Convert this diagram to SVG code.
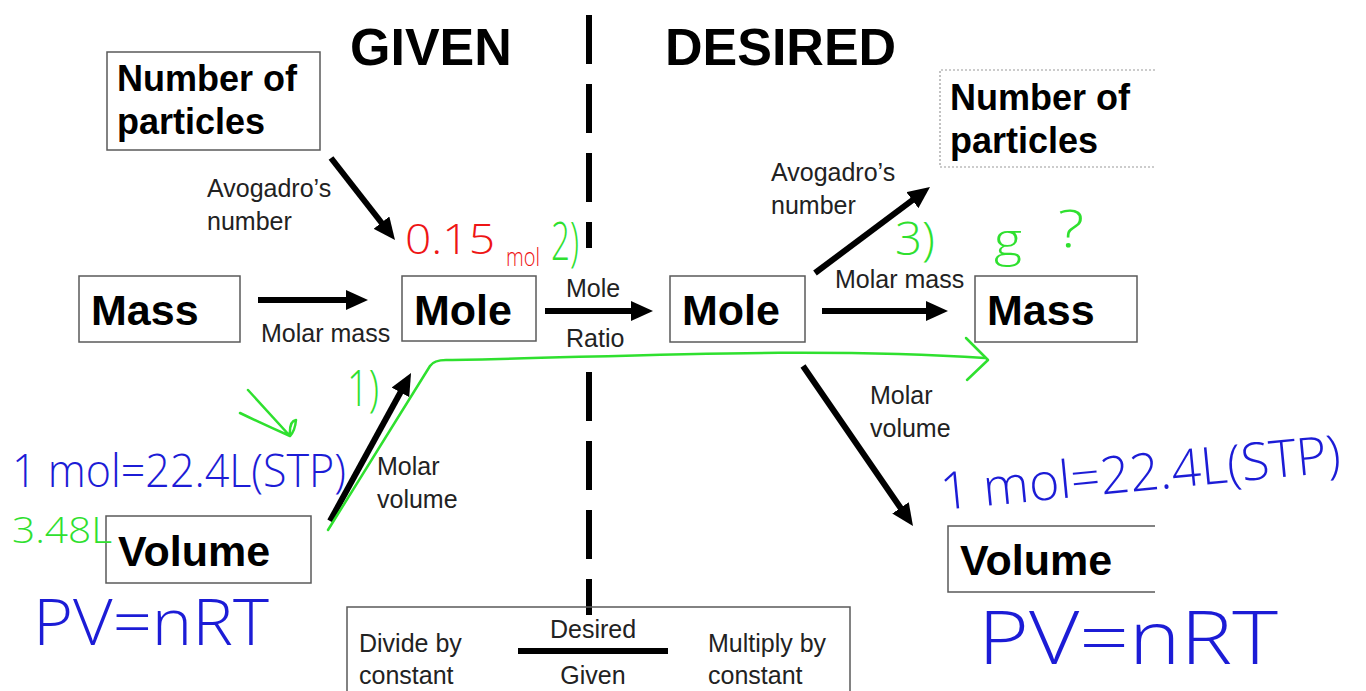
<svg xmlns="http://www.w3.org/2000/svg" width="1366" height="691" viewBox="0 0 1366 691">
<style>
.box{fill:#fff;stroke:#5a5a5a;stroke-width:1.5}
.open{fill:none;stroke:#5a5a5a;stroke-width:1.5}
.dot{fill:none;stroke:#9a9a9a;stroke-width:1.2;stroke-dasharray:2 2}
.nt{font-family:"Liberation Sans",Arial,sans-serif;font-weight:bold;font-size:43px;fill:#000}
.nt2{font-family:"Liberation Sans",Arial,sans-serif;font-weight:bold;font-size:36px;fill:#000}
.ttl{font-family:"Liberation Sans",Arial,sans-serif;font-weight:bold;font-size:52px;fill:#000}
.lbl{font-family:"Liberation Sans",Arial,sans-serif;font-size:25px;fill:#222}
.arr{stroke:#000;stroke-width:6;fill:none}
.hand{font-family:"Open Sans","DejaVu Sans",sans-serif;font-weight:300}
.g{fill:#2fe02f}
.b{fill:#1c1cd6}
.r{fill:#ee1515}
.gs{stroke:#2fe02f;stroke-width:2.5;fill:none;stroke-linecap:round;stroke-linejoin:round}
</style>
<defs>
<marker id="ah" viewBox="0 0 22 20" markerWidth="22" markerHeight="20" refX="3" refY="10" orient="auto" markerUnits="userSpaceOnUse">
<path d="M0,0 L22,10 L0,20 z" fill="#000"/>
</marker>
</defs>
<rect width="1366" height="691" fill="#fff"/>

<g id="titles">
<text class="ttl" x="350" y="65">GIVEN</text>
<text class="ttl" x="665" y="65">DESIRED</text>
</g>

<g id="divider" stroke="#000" stroke-width="6">
<line x1="589" y1="15" x2="589" y2="64"/>
<line x1="589" y1="84" x2="589" y2="133"/>
<line x1="589" y1="153" x2="589" y2="202"/>
<line x1="589" y1="222" x2="589" y2="248"/>
<line x1="589" y1="372" x2="589" y2="421"/>
<line x1="589" y1="441" x2="589" y2="490"/>
<line x1="589" y1="510" x2="589" y2="559"/>
<line x1="589" y1="579" x2="589" y2="615"/>
</g>

<g id="node-particles-left">
<rect class="box" x="107" y="52" width="213" height="98"/>
<text class="nt2" x="117" y="91">Number of</text>
<text class="nt2" x="117" y="134">particles</text>
</g>
<g id="node-particles-right">
<path class="dot" d="M1155,70 L940,70 L940,167 L1155,167"/>
<text class="nt2" x="950" y="110">Number of</text>
<text class="nt2" x="950" y="153">particles</text>
</g>
<g id="node-mass-left">
<rect class="box" x="79" y="276" width="161" height="66"/>
<text class="nt" x="91" y="325">Mass</text>
</g>
<g id="node-mole-left">
<rect class="box" x="402" y="276" width="134" height="65"/>
<text class="nt" x="414" y="325">Mole</text>
</g>
<g id="node-mole-right">
<rect class="box" x="670" y="276" width="135" height="66"/>
<text class="nt" x="682" y="325">Mole</text>
</g>
<g id="node-mass-right">
<rect class="box" x="975" y="276" width="162" height="66"/>
<text class="nt" x="987" y="325">Mass</text>
</g>
<g id="node-volume-left">
<rect class="box" x="106" y="516" width="205" height="67"/>
<text class="nt" x="118" y="566">Volume</text>
</g>
<g id="node-volume-right">
<path class="open" d="M1155,526 L948,526 L948,592 L1155,592"/>
<text class="nt" x="960" y="575">Volume</text>
</g>
<g id="node-legend">
<path class="open" d="M347,691 L347,607 L850,607 L850,691"/>
<text class="lbl" x="359" y="652">Divide by</text>
<text class="lbl" x="359" y="684">constant</text>
<text class="lbl" x="593" y="638" text-anchor="middle">Desired</text>
<line x1="518" y1="651" x2="668" y2="651" stroke="#000" stroke-width="6"/>
<text class="lbl" x="593" y="684" text-anchor="middle">Given</text>
<text class="lbl" x="708" y="652">Multiply by</text>
<text class="lbl" x="708" y="684">constant</text>
</g>

<g id="connectors">
<line class="arr" x1="331" y1="158" x2="383.3" y2="225" marker-end="url(#ah)"/>
<line class="arr" x1="258" y1="300" x2="349" y2="300" marker-end="url(#ah)"/>
<line class="arr" x1="545" y1="311" x2="634" y2="311" marker-end="url(#ah)"/>
<line class="arr" x1="330" y1="521" x2="401.9" y2="389.7" marker-end="url(#ah)"/>
<line class="arr" x1="815" y1="273" x2="914.8" y2="198.4" marker-end="url(#ah)"/>
<line class="arr" x1="822" y1="311" x2="929" y2="311" marker-end="url(#ah)"/>
<line class="arr" x1="803" y1="366" x2="902.2" y2="510.3" marker-end="url(#ah)"/>
</g>

<g id="connector-labels">
<text class="lbl" x="207" y="197">Avogadro’s</text>
<text class="lbl" x="207" y="230">number</text>
<text class="lbl" x="261" y="342">Molar mass</text>
<text class="lbl" x="566" y="297">Mole</text>
<text class="lbl" x="566" y="347">Ratio</text>
<text class="lbl" x="377" y="475">Molar</text>
<text class="lbl" x="377" y="508">volume</text>
<text class="lbl" x="771" y="181">Avogadro’s</text>
<text class="lbl" x="771" y="214">number</text>
<text class="lbl" x="835" y="288">Molar mass</text>
<text class="lbl" x="870" y="404">Molar</text>
<text class="lbl" x="870" y="437">volume</text>
</g>

<g id="annotations">
<path class="gs" d="M328,530 L430,366 Q434,360 446,360 C600,358 800,346 985,358"/>
<path class="gs" d="M966,338 L988,360 L967,380"/>
<path class="gs" d="M248,390 Q268,412 290,436 M240,413 Q265,425 290,436 M290,436 Q289,421 296,420 Q295,431 290,436"/>
<text class="hand g" x="347" y="406" font-size="50" textLength="32" lengthAdjust="spacingAndGlyphs">1)</text>
<text class="hand g" x="12" y="543" font-size="36" textLength="100" lengthAdjust="spacingAndGlyphs">3.48L</text>
<text class="hand g" x="551" y="260" font-size="54" textLength="28" lengthAdjust="spacingAndGlyphs">2)</text>
<text class="hand g" x="895" y="255" font-size="46" textLength="40" lengthAdjust="spacingAndGlyphs">3)</text>
<text class="hand g" x="994" y="256" font-size="46" textLength="28" lengthAdjust="spacingAndGlyphs">g</text>
<text class="hand g" x="1058" y="247" font-size="52" textLength="26" lengthAdjust="spacingAndGlyphs">?</text>
<text class="hand r" x="405" y="254" font-size="42" textLength="90" lengthAdjust="spacingAndGlyphs">0.15</text>
<text class="hand r" x="506" y="266" font-size="26" textLength="34" lengthAdjust="spacingAndGlyphs">mol</text>
<text class="hand b" x="12" y="487" font-size="46" textLength="334" lengthAdjust="spacingAndGlyphs">1 mol=22.4L(STP)</text>
<text class="hand b" x="33" y="645" font-size="64" textLength="236" lengthAdjust="spacingAndGlyphs">PV=nRT</text>
<text class="hand b" x="942" y="510" font-size="52" textLength="402" lengthAdjust="spacingAndGlyphs" transform="rotate(-5.5 942 510)">1 mol=22.4L(STP)</text>
<text class="hand b" x="978" y="664" font-size="74" textLength="300" lengthAdjust="spacingAndGlyphs">PV=nRT</text>
</g>
</svg>
